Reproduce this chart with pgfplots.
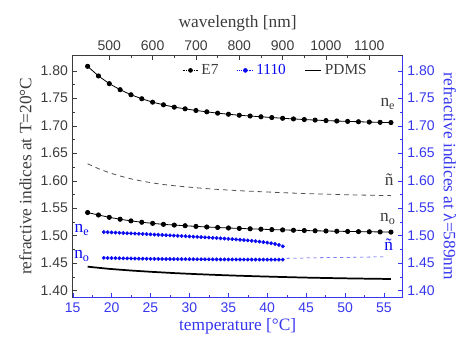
\documentclass[border=0pt]{standalone}
\usepackage{fontspec}
\setmainfont{Liberation Serif}
\newfontfamily\tickfont{Liberation Sans}
\usepackage{pgfplots}
\pgfplotsset{compat=1.18}
\definecolor{myblue}{RGB}{10,10,240}
\definecolor{axblue}{RGB}{55,55,240}
\definecolor{dgray}{RGB}{60,60,60}
\definecolor{lgray}{RGB}{80,80,80}

\pgfplotsset{
  mylegend/.style={legend image code/.code={%
    \draw[mark repeat=2,mark phase=2,##1] plot coordinates {(0pt,0pt) (6pt,0pt) (12pt,0pt)};}},
  common/.style={
    scale only axis, width=247.5pt, height=182pt,
    ymin=1.387, ymax=1.8285,
    ytick={1.40,1.45,...,1.81}, minor y tick num=1,
    major tick length=3.5pt, minor tick length=2pt,
    tick align=inside,
    /pgf/number format/assume math mode=true,
    /pgf/number format/1000 sep={},
    ticklabel style={font=\tickfont\fontsize{10.5}{12}\selectfont},
    yticklabel style={/pgf/number format/.cd, fixed, fixed zerofill, precision=2},
    label style={font=\fontsize{13}{15}\selectfont},
  }
}

\begin{document}
\begin{tikzpicture}
\path[use as bounding box] (-54.5pt,-30.2pt) rectangle (290.5pt,223.3pt);

% temperature axis (bottom / right), blue data
\begin{axis}[common,
  xmin=15, xmax=57.4,
  axis x line*=bottom, axis y line*=right,
  x axis line style={axblue,-}, y axis line style={axblue,-},
  xtick={15,20,...,55}, minor x tick num=1,
  tick style={axblue},
  ticklabel style={text=axblue},
  xlabel={temperature [°C]}, xlabel style={text=axblue, yshift=2pt},
  ylabel={refractive indices at λ=589nm}, ylabel style={text=axblue, rotate=180},
]
\addplot[only marks, mark=*, mark size=1.25pt, myblue] coordinates {
(19.0,1.5065)(19.5,1.5062)(20.0,1.5058)(20.5,1.5055)(21.0,1.5051)(21.5,1.5048)
(22.0,1.5044)(22.5,1.5041)(23.0,1.5037)(23.5,1.5034)(24.0,1.5030)(24.5,1.5027)
(25.0,1.5023)(25.5,1.5019)(26.0,1.5016)(26.5,1.5012)(27.0,1.5008)(27.5,1.5005)
(28.0,1.5001)(28.5,1.4997)(29.0,1.4993)(29.5,1.4989)(30.0,1.4985)(30.5,1.4981)
(31.0,1.4977)(31.5,1.4973)(32.0,1.4969)(32.5,1.4965)(33.0,1.4960)(33.5,1.4956)
(34.0,1.4951)(34.5,1.4946)(35.0,1.4941)(35.5,1.4936)(36.0,1.4931)(36.5,1.4925)
(37.0,1.4919)(37.5,1.4913)(38.0,1.4906)(38.5,1.4899)(39.0,1.4891)(39.5,1.4882)
(40.0,1.4872)(40.5,1.4861)(41.0,1.4848)(41.5,1.4830)(42.0,1.4805)
};
\addplot[only marks, mark=*, mark size=1.25pt, myblue] coordinates {
(19.0,1.4595)(19.5,1.4593)(20.0,1.4591)(20.5,1.4590)(21.0,1.4588)(21.5,1.4587)
(22.0,1.4585)(22.5,1.4584)(23.0,1.4582)(23.5,1.4581)(24.0,1.4580)(24.5,1.4579)
(25.0,1.4578)(25.5,1.4577)(26.0,1.4576)(26.5,1.4575)(27.0,1.4574)(27.5,1.4574)
(28.0,1.4573)(28.5,1.4573)(29.0,1.4572)(29.5,1.4572)(30.0,1.4571)(30.5,1.4571)
(31.0,1.4570)(31.5,1.4570)(32.0,1.4569)(32.5,1.4569)(33.0,1.4568)(33.5,1.4568)
(34.0,1.4567)(34.5,1.4567)(35.0,1.4566)(35.5,1.4566)(36.0,1.4566)(36.5,1.4565)
(37.0,1.4565)(37.5,1.4565)(38.0,1.4565)(38.5,1.4564)(39.0,1.4564)(39.5,1.4564)
(40.0,1.4564)(40.5,1.4563)(41.0,1.4563)(41.5,1.4563)(42.0,1.4563)
};
\addplot[axblue, thin, dash pattern=on 2.5pt off 2.5pt] coordinates {
(42.5,1.4588)(45,1.4593)(50,1.4604)(55,1.4615)
};
\node[font=\fontsize{13}{15}\selectfont, text=myblue] at (axis cs:16.2,1.5105) {n\textsubscript{e}};
\node[font=\fontsize{13}{15}\selectfont, text=myblue] at (axis cs:16.2,1.4630) {n\textsubscript{o}};
\node[font=\fontsize{13}{15}\selectfont, text=myblue] at (axis cs:55.6,1.4830) {ñ};
\end{axis}

% wavelength axis (top / left), black data
\begin{axis}[common, mylegend,
  xmin=415.5, xmax=1177,
  axis x line*=top, axis y line*=left,
  x axis line style={dgray,-}, y axis line style={dgray,-},
  xtick={500,600,...,1100}, minor x tick num=1,
  tick style={dgray},
  ticklabel style={text=dgray},
  xlabel={wavelength [nm]}, xlabel style={text=dgray},
  ylabel={refractive indices at T=20°C}, ylabel style={text=dgray},
  legend style={draw=none, fill=none, at={(0.912,0.985)}, anchor=north east,
    font=\fontsize{11.5}{13}\selectfont, legend columns=3,
    /tikz/every even column/.append style={column sep=12pt},
    /tikz/every odd column/.append style={column sep=0pt}},
  legend cell align=left,
]
\addlegendimage{black, densely dotted, mark=*, mark size=1.5pt, mark options={solid}}
\addlegendentry{\textcolor{dgray}{E7}}
\addlegendimage{myblue, densely dotted, mark=*, mark size=1.5pt, mark options={solid}}
\addlegendentry{\textcolor{myblue}{1110}}
\addlegendimage{black, line width=1.3pt}
\addlegendentry{\textcolor{dgray}{PDMS}}

\addplot[black, line width=0.6pt, mark=*, mark size=1.6pt] coordinates {
(450,1.8080)(475,1.7905)(500,1.7765)(525,1.7655)(550,1.7563)(575,1.7490)
(600,1.7428)(625,1.7380)(650,1.7337)(675,1.7307)(700,1.7277)(725,1.7252)
(750,1.7228)(775,1.7208)(800,1.7190)(825,1.7176)(850,1.7162)(875,1.7148)
(900,1.7135)(925,1.7123)(950,1.7112)(975,1.7102)(1000,1.7093)(1025,1.7085)
(1050,1.7078)(1075,1.7072)(1100,1.7066)(1125,1.7061)(1150,1.7057)
};
\addplot[black, line width=0.6pt, mark=*, mark size=1.6pt] coordinates {
(450,1.5420)(475,1.5375)(500,1.5333)(525,1.5298)(550,1.5268)(575,1.5243)
(600,1.5223)(625,1.5205)(650,1.5192)(675,1.5180)(700,1.5168)(725,1.5157)
(750,1.5148)(775,1.5139)(800,1.5131)(825,1.5124)(850,1.5117)(875,1.5110)
(900,1.5104)(925,1.5098)(950,1.5093)(975,1.5088)(1000,1.5084)(1025,1.5080)
(1050,1.5076)(1075,1.5073)(1100,1.5070)(1125,1.5067)(1150,1.5064)
};
\addplot[lgray, line width=0.6pt, dash pattern=on 3.5pt off 3pt] coordinates {
(450,1.6307)(475,1.6218)(500,1.6144)(525,1.6084)(550,1.6033)(575,1.5992)
(600,1.5958)(625,1.5930)(650,1.5907)(675,1.5889)(700,1.5871)(725,1.5855)
(750,1.5841)(775,1.5829)(800,1.5817)(850,1.5799)(900,1.5781)(950,1.5766)
(1000,1.5754)(1050,1.5743)(1100,1.5735)(1150,1.5728)
};
\addplot[black, line width=1.3pt] coordinates {
(450,1.4435)(500,1.4395)(550,1.4365)(600,1.4340)(650,1.4318)(700,1.4300)
(750,1.4284)(800,1.4270)(850,1.4258)(900,1.4247)(950,1.4237)(1000,1.4229)
(1050,1.4222)(1100,1.4216)(1150,1.4211)
};
\node[font=\fontsize{13}{15}\selectfont, text=dgray] at (axis cs:1143,1.7395) {n\textsubscript{e}};
\node[font=\fontsize{13}{15}\selectfont, text=dgray] at (axis cs:1146,1.6020) {ñ};
\node[font=\fontsize{13}{15}\selectfont, text=dgray] at (axis cs:1143,1.5300) {n\textsubscript{o}};
\end{axis}
\end{tikzpicture}
\end{document}
